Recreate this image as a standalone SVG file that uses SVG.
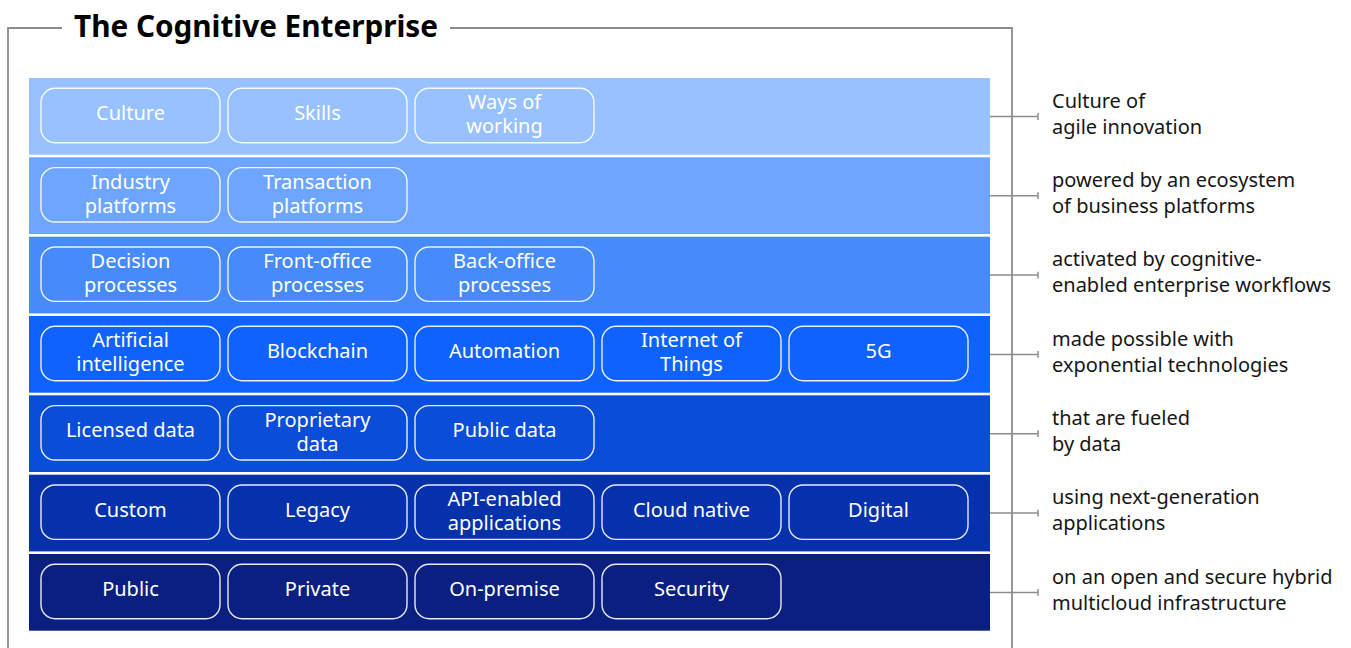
<svg xmlns="http://www.w3.org/2000/svg" width="1351" height="648" viewBox="0 0 1351 648">
<style>
.pill{fill:none;stroke:#ffffff;stroke-width:1.4;stroke-opacity:0.9}
.pt{font-family:"Noto Sans","Liberation Sans",sans-serif;font-size:20px;fill:#ffffff;text-anchor:middle}
.rt{font-family:"Noto Sans","Liberation Sans",sans-serif;font-size:20px;fill:#161616}
.conn{stroke:#8d8d8d;stroke-width:1.5;fill:none}
.frame{stroke:#8d8d8d;stroke-width:1.8;fill:none}
</style>
<rect width="1351" height="648" fill="#ffffff"/>
<g id="frame">
<path class="frame" d="M8,648 V28 H62 M450,28 H1012 V648"/>
<text x="74" y="37" font-family="'Noto Sans','Liberation Sans',sans-serif" font-weight="bold" font-size="30" fill="#000000" textLength="364" lengthAdjust="spacingAndGlyphs">The Cognitive Enterprise</text>
</g>
<g id="connectors">
<path class="conn" d="M990,116.4 H1038 M1038,113 V120"/>
<path class="conn" d="M990,195.7 H1038 M1038,192.3 V199.1"/>
<path class="conn" d="M990,275.1 H1038 M1038,271.7 V278.5"/>
<path class="conn" d="M990,354.4 H1038 M1038,351 V357.8"/>
<path class="conn" d="M990,433.7 H1038 M1038,430.3 V437.1"/>
<path class="conn" d="M990,513.1 H1038 M1038,509.7 V516.5"/>
<path class="conn" d="M990,592.4 H1038 M1038,589 V595.8"/>
</g>
<g id="row1">
<rect x="29" y="78" width="961" height="76.7" fill="#97c1ff"/>
<rect class="pill" x="41" y="88.3" width="179" height="54.4" rx="14"/>
<text class="pt" x="130.5" y="120">Culture</text>
<rect class="pill" x="228" y="88.3" width="179" height="54.4" rx="14"/>
<text class="pt" x="317.5" y="120">Skills</text>
<rect class="pill" x="415" y="88.3" width="179" height="54.4" rx="14"/>
<text class="pt" x="504.5" y="109.3">Ways of<tspan x="504.5" y="133.3">working</tspan></text>
<text class="rt" x="1052" y="107.5">Culture of<tspan x="1052" y="133.5">agile innovation</tspan></text>
</g>
<g id="row2">
<rect x="29" y="157.3" width="961" height="76.7" fill="#6ea5ff"/>
<rect class="pill" x="41" y="167.6" width="179" height="54.4" rx="14"/>
<text class="pt" x="130.5" y="188.6">Industry<tspan x="130.5" y="212.6">platforms</tspan></text>
<rect class="pill" x="228" y="167.6" width="179" height="54.4" rx="14"/>
<text class="pt" x="317.5" y="188.6">Transaction<tspan x="317.5" y="212.6">platforms</tspan></text>
<text class="rt" x="1052" y="186.8">powered by an ecosystem<tspan x="1052" y="212.8">of business platforms</tspan></text>
</g>
<g id="row3">
<rect x="29" y="236.7" width="961" height="76.7" fill="#478bfa"/>
<rect class="pill" x="41" y="247" width="179" height="54.4" rx="14"/>
<text class="pt" x="130.5" y="268">Decision<tspan x="130.5" y="292">processes</tspan></text>
<rect class="pill" x="228" y="247" width="179" height="54.4" rx="14"/>
<text class="pt" x="317.5" y="268">Front-office<tspan x="317.5" y="292">processes</tspan></text>
<rect class="pill" x="415" y="247" width="179" height="54.4" rx="14"/>
<text class="pt" x="504.5" y="268">Back-office<tspan x="504.5" y="292">processes</tspan></text>
<text class="rt" x="1052" y="266.2">activated by cognitive-<tspan x="1052" y="292.2">enabled enterprise workflows</tspan></text>
</g>
<g id="row4">
<rect x="29" y="316" width="961" height="76.7" fill="#0f62fe"/>
<rect class="pill" x="41" y="326.3" width="179" height="54.4" rx="14"/>
<text class="pt" x="130.5" y="347.3">Artificial<tspan x="130.5" y="371.3">intelligence</tspan></text>
<rect class="pill" x="228" y="326.3" width="179" height="54.4" rx="14"/>
<text class="pt" x="317.5" y="358">Blockchain</text>
<rect class="pill" x="415" y="326.3" width="179" height="54.4" rx="14"/>
<text class="pt" x="504.5" y="358">Automation</text>
<rect class="pill" x="602" y="326.3" width="179" height="54.4" rx="14"/>
<text class="pt" x="691.5" y="347.3">Internet of<tspan x="691.5" y="371.3">Things</tspan></text>
<rect class="pill" x="789" y="326.3" width="179" height="54.4" rx="14"/>
<text class="pt" x="878.5" y="358">5G</text>
<text class="rt" x="1052" y="345.5">made possible with<tspan x="1052" y="371.5">exponential technologies</tspan></text>
</g>
<g id="row5">
<rect x="29" y="395.3" width="961" height="76.7" fill="#0a4dd8"/>
<rect class="pill" x="41" y="405.6" width="179" height="54.4" rx="14"/>
<text class="pt" x="130.5" y="437.3">Licensed data</text>
<rect class="pill" x="228" y="405.6" width="179" height="54.4" rx="14"/>
<text class="pt" x="317.5" y="426.6">Proprietary<tspan x="317.5" y="450.6">data</tspan></text>
<rect class="pill" x="415" y="405.6" width="179" height="54.4" rx="14"/>
<text class="pt" x="504.5" y="437.3">Public data</text>
<text class="rt" x="1052" y="424.8">that are fueled<tspan x="1052" y="450.8">by data</tspan></text>
</g>
<g id="row6">
<rect x="29" y="474.7" width="961" height="76.7" fill="#0531ac"/>
<rect class="pill" x="41" y="485" width="179" height="54.4" rx="14"/>
<text class="pt" x="130.5" y="516.7">Custom</text>
<rect class="pill" x="228" y="485" width="179" height="54.4" rx="14"/>
<text class="pt" x="317.5" y="516.7">Legacy</text>
<rect class="pill" x="415" y="485" width="179" height="54.4" rx="14"/>
<text class="pt" x="504.5" y="506">API-enabled<tspan x="504.5" y="530">applications</tspan></text>
<rect class="pill" x="602" y="485" width="179" height="54.4" rx="14"/>
<text class="pt" x="691.5" y="516.7">Cloud native</text>
<rect class="pill" x="789" y="485" width="179" height="54.4" rx="14"/>
<text class="pt" x="878.5" y="516.7">Digital</text>
<text class="rt" x="1052" y="504.2">using next-generation<tspan x="1052" y="530.2">applications</tspan></text>
</g>
<g id="row7">
<rect x="29" y="554" width="961" height="76.7" fill="#0a1f80"/>
<rect class="pill" x="41" y="564.3" width="179" height="54.4" rx="14"/>
<text class="pt" x="130.5" y="596">Public</text>
<rect class="pill" x="228" y="564.3" width="179" height="54.4" rx="14"/>
<text class="pt" x="317.5" y="596">Private</text>
<rect class="pill" x="415" y="564.3" width="179" height="54.4" rx="14"/>
<text class="pt" x="504.5" y="596">On-premise</text>
<rect class="pill" x="602" y="564.3" width="179" height="54.4" rx="14"/>
<text class="pt" x="691.5" y="596">Security</text>
<text class="rt" x="1052" y="583.5">on an open and secure hybrid<tspan x="1052" y="609.5">multicloud infrastructure</tspan></text>
</g>
</svg>
